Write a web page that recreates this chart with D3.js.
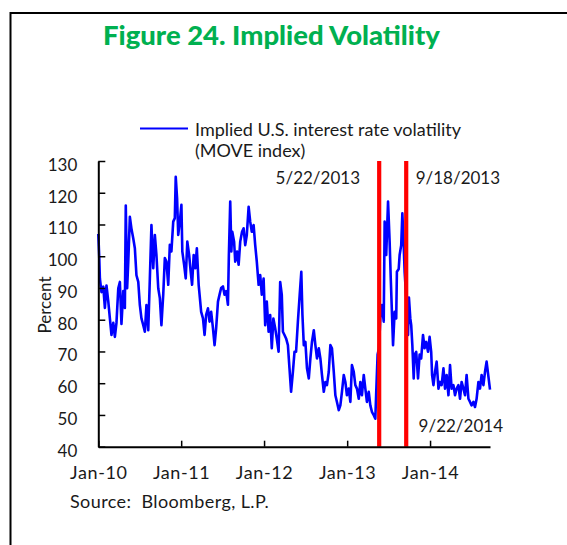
<!DOCTYPE html>
<html>
<head>
<meta charset="utf-8">
<script src="https://cdn.jsdelivr.net/npm/d3@7"></script>
<style>
  html, body { margin: 0; padding: 0; background: #fff; }
  svg { display: block; }
  text { font-family: Lato, "Open Sans", sans-serif; fill: #1a1a1a; }
</style>
</head>
<body>
<svg id="chart" width="567" height="545"></svg>
<script>
// MOVE index (implied U.S. interest rate volatility), weekly readings
const dates = [
  "2010-01-01","2010-01-05","2010-01-08","2010-01-15","2010-01-23","2010-01-30","2010-02-06","2010-02-14","2010-02-21","2010-02-28",
  "2010-03-08","2010-03-15","2010-03-22","2010-03-30","2010-04-06","2010-04-13","2010-04-21","2010-04-28","2010-05-02","2010-05-08",
  "2010-05-13","2010-05-20","2010-05-27","2010-06-04","2010-06-11","2010-06-18","2010-06-26","2010-07-03","2010-07-10","2010-07-18",
  "2010-07-25","2010-08-01","2010-08-09","2010-08-16","2010-08-23","2010-08-31","2010-09-07","2010-09-14","2010-09-22","2010-09-29",
  "2010-10-06","2010-10-14","2010-10-21","2010-10-28","2010-11-05","2010-11-12","2010-11-19","2010-11-27","2010-12-04","2010-12-08",
  "2010-12-14","2010-12-19","2010-12-26",
  "2011-01-02","2011-01-06","2011-01-14","2011-01-21","2011-01-28","2011-02-05","2011-02-12","2011-02-18","2011-02-25","2011-03-04",
  "2011-03-11","2011-03-19","2011-03-23","2011-03-30","2011-04-07","2011-04-14","2011-04-21","2011-04-29","2011-05-06","2011-05-13",
  "2011-05-21","2011-05-28","2011-06-04","2011-06-12","2011-06-19","2011-06-26","2011-07-04","2011-07-11","2011-07-18","2011-07-26",
  "2011-07-30","2011-08-05","2011-08-10","2011-08-14","2011-08-22","2011-08-27","2011-09-04","2011-09-11","2011-09-18","2011-09-26",
  "2011-10-03","2011-10-10","2011-10-17","2011-10-25","2011-11-01","2011-11-08","2011-11-16","2011-11-23","2011-11-30","2011-12-08",
  "2011-12-15","2011-12-22","2011-12-30",
  "2012-01-06","2012-01-13","2012-01-21","2012-01-28","2012-02-04","2012-02-11","2012-02-19","2012-02-26","2012-03-05","2012-03-12",
  "2012-03-19","2012-03-24","2012-03-31","2012-04-07","2012-04-15","2012-04-22","2012-04-29","2012-05-07","2012-05-14","2012-05-21",
  "2012-05-29","2012-06-06","2012-06-13","2012-06-18","2012-06-24","2012-07-01","2012-07-08","2012-07-16","2012-07-23","2012-07-30",
  "2012-08-07","2012-08-14","2012-08-21","2012-08-29","2012-09-05","2012-09-12","2012-09-20","2012-09-27","2012-10-04","2012-10-12",
  "2012-10-19","2012-10-26","2012-11-03","2012-11-10","2012-11-17","2012-11-25","2012-12-02","2012-12-09","2012-12-17","2012-12-24",
  "2012-12-31",
  "2013-01-08","2013-01-15","2013-01-22","2013-01-30","2013-02-06","2013-02-13","2013-02-21","2013-02-28","2013-03-07","2013-03-15",
  "2013-03-22","2013-03-29","2013-04-06","2013-04-13","2013-04-20","2013-04-28","2013-05-05","2013-05-09","2013-05-15","2013-05-21",
  "2013-05-27","2013-06-03","2013-06-11","2013-06-15","2013-06-22","2013-06-30","2013-07-07","2013-07-12","2013-07-22","2013-07-29",
  "2013-08-05","2013-08-08","2013-08-16","2013-08-20","2013-08-27","2013-09-01","2013-09-07","2013-09-11","2013-09-18","2013-09-26",
  "2013-09-30","2013-10-06","2013-10-10","2013-10-15","2013-10-21","2013-10-25","2013-11-01","2013-11-09","2013-11-16","2013-11-23",
  "2013-12-01","2013-12-08","2013-12-15","2013-12-23","2013-12-30",
  "2014-01-06","2014-01-10","2014-01-16","2014-01-23","2014-01-30","2014-02-07","2014-02-14","2014-02-21","2014-03-01","2014-03-08",
  "2014-03-15","2014-03-23","2014-03-30","2014-04-06","2014-04-14","2014-04-21","2014-04-28","2014-05-06","2014-05-13","2014-05-20",
  "2014-05-28","2014-06-04","2014-06-11","2014-06-19","2014-06-26","2014-07-03","2014-07-11","2014-07-18","2014-07-25","2014-08-02",
  "2014-08-09","2014-08-16","2014-08-24","2014-08-31","2014-09-07","2014-09-22"
];
const volatility = [
  107,100,93,88.7,90.4,83.7,90.8,85.7,80.4,75.2,
  79,74.6,79,89.9,91.9,78.7,89,83.7,116,89.9,
  98.3,112.4,108.7,105.6,102.5,94,91.9,84.6,80.4,78.3,
  76.2,84.6,76.7,93,109.8,96.2,106.7,100.4,89.9,86.8,
  78.3,88,99.4,98.3,91,103.6,101.5,110.9,112,125,
  118.2,106.7,110.9,
  116.2,101.5,97.3,93,104.6,100.4,95.1,91,100.4,96.2,
  102.5,91,87.9,82.5,80.4,75.2,81.5,83.6,79.4,82.5,
  77.3,72,77.3,85.7,87.9,90,90.5,87.9,89,84.7,
  100.4,117.2,101.5,107.7,104.6,98.3,101.5,97.3,104.6,107.7,
  108.8,103.5,106.7,115.6,110.9,107.7,109.8,103.5,98.3,91,
  94.1,87.9,93,
  78.3,85.7,76.2,81.5,71,80.4,77.3,74.1,69.9,91.9,
  87.9,76.2,75.2,74.1,72,64.7,57.3,63.6,69.9,69.9,
  79.4,87.9,95.1,81.5,72,73,64.7,61.5,67.8,73,
  76.7,72,67.8,71,67.8,62.6,57.3,60.4,59.4,63.6,
  72,71,63.6,56.2,54.1,51.5,53,57.3,62.6,60.4,
  56.2,
  58.3,54.1,65.7,63.6,59.4,58.3,55.1,60.4,56.2,62.6,
  58.3,54.1,57.3,53,51,49.9,48.8,57.3,69,71,
  80.4,84.6,79.4,110.9,100.4,117.2,104.6,92.9,72,82.5,
  80.4,95.1,96,100.4,103.5,113.5,103.5,95.1,87,75.2,
  87,80.4,78.3,72,61.5,69,69.9,61.5,69,67.8,
  75.2,71,73,69.9,74.6,
  69.9,62.6,59.4,63.6,66.8,58.3,60.4,59.4,64.7,58.3,
  62.6,56.2,65.7,58.3,59.4,56.2,58.3,59.4,55.1,60.4,
  58.3,56.2,62.6,55.1,54.1,53,54.1,52.5,55.1,60.4,
  58.3,62.6,59.4,63.6,66.8,58
];
const yTicks = [40, 50, 60, 70, 80, 90, 100, 110, 120, 130];
const xTickDates = ["2010-01-01", "2011-01-01", "2012-01-01", "2013-01-01", "2014-01-01"];
const eventDates = ["2013-05-22", "2013-09-18"];
const eventLabels = ["5/22/2013", "9/18/2013"];
const lastLabel = "9/22/2014";

const parse = d3.timeParse("%Y-%m-%d");
const series = dates.map((d, i) => ({ date: parse(d), value: volatility[i] }));

const svg = d3.select("#chart");

// outer frame (top and left edges)
svg.append("path")
  .attr("d", "M10.5,545 V13 H567")
  .attr("fill", "none").attr("stroke", "#000").attr("stroke-width", 2);

// title
svg.append("text")
  .attr("x", 271.5).attr("y", 45)
  .attr("text-anchor", "middle")
  .attr("textLength", 337).attr("lengthAdjust", "spacingAndGlyphs")
  .style("font-size", "27px").style("font-weight", "900")
  .style("fill", "#00b050")
  .text("Figure 24. Implied Volatility");

const x = d3.scaleTime()
  .domain([parse("2010-01-01"), parse("2014-09-22")])
  .range([98.3, 490]);
const y = d3.scaleLinear().domain([40, 130]).range([446.7, 161]);

// data line
const line = d3.line().x(d => x(d.date)).y(d => y(d.value));
svg.append("path")
  .datum(series)
  .attr("d", line)
  .attr("fill", "none")
  .attr("stroke", "#0000ff")
  .attr("stroke-width", 2.6)
  .attr("stroke-linejoin", "round");

// event markers
svg.selectAll("line.event")
  .data(eventDates)
  .join("line")
  .attr("class", "event")
  .attr("x1", d => x(parse(d))).attr("x2", d => x(parse(d)))
  .attr("y1", y(130)).attr("y2", y(40))
  .attr("stroke", "#ff0000").attr("stroke-width", 4.2);

// axes
const yAxis = d3.axisLeft(y).tickValues(yTicks).tickSizeInner(-7).tickSizeOuter(0).tickPadding(21);
const gy = svg.append("g").attr("transform", `translate(${x.range()[0]},0)`).call(yAxis);
const xAxis = d3.axisBottom(x).tickValues(xTickDates.map(parse))
  .tickFormat(d3.timeFormat("%b-%y")).tickSizeInner(-6).tickSizeOuter(0).tickPadding(20);
const gx = svg.append("g").attr("transform", `translate(0,${y.range()[0]})`).call(xAxis);

[gx, gy].forEach(g => {
  g.select(".domain").attr("stroke", "#000").attr("stroke-width", 2);
  g.selectAll(".tick line").attr("stroke", "#000").attr("stroke-width", 1.5);
  g.selectAll(".tick text").style("font-size", "17px").style("font-family", "Lato, sans-serif").attr("fill", "#1a1a1a");
});
gy.selectAll(".tick text").attr("dy", "0.55em");
gx.selectAll(".tick text").style("font-size", "18px").style("letter-spacing", "0.6px");

// y axis title
svg.append("text")
  .attr("transform", "translate(51,305) rotate(-90)")
  .attr("text-anchor", "middle")
  .style("font-size", "17px")
  .text("Percent");

// event labels
svg.selectAll("text.evt")
  .data(eventLabels)
  .join("text")
  .attr("class", "evt")
  .attr("x", (d, i) => i === 0 ? 360 : 415.7)
  .attr("y", 183.5)
  .attr("text-anchor", (d, i) => i === 0 ? "end" : "start")
  .style("font-size", "17px")
  .text(d => d);

svg.append("text")
  .attr("x", 503).attr("y", 432)
  .attr("text-anchor", "end")
  .style("font-size", "17px")
  .text(lastLabel);

// legend
svg.append("line")
  .attr("x1", 140).attr("x2", 188).attr("y1", 128.5).attr("y2", 128.5)
  .attr("stroke", "#0000ff").attr("stroke-width", 2);
const leg = svg.append("text").attr("x", 195).attr("y", 136).style("font-size", "18px");
leg.append("tspan").attr("x", 195).text("Implied U.S. interest rate volatility");
leg.append("tspan").attr("x", 195).attr("dy", 20.7).text("(MOVE index)");

// source note
svg.append("text")
  .attr("x", 70).attr("y", 508)
  .style("font-size", "18px").style("letter-spacing", "0.4px")
  .attr("xml:space", "preserve")
  .text("Source:  Bloomberg, L.P.");
</script>
</body>
</html>
